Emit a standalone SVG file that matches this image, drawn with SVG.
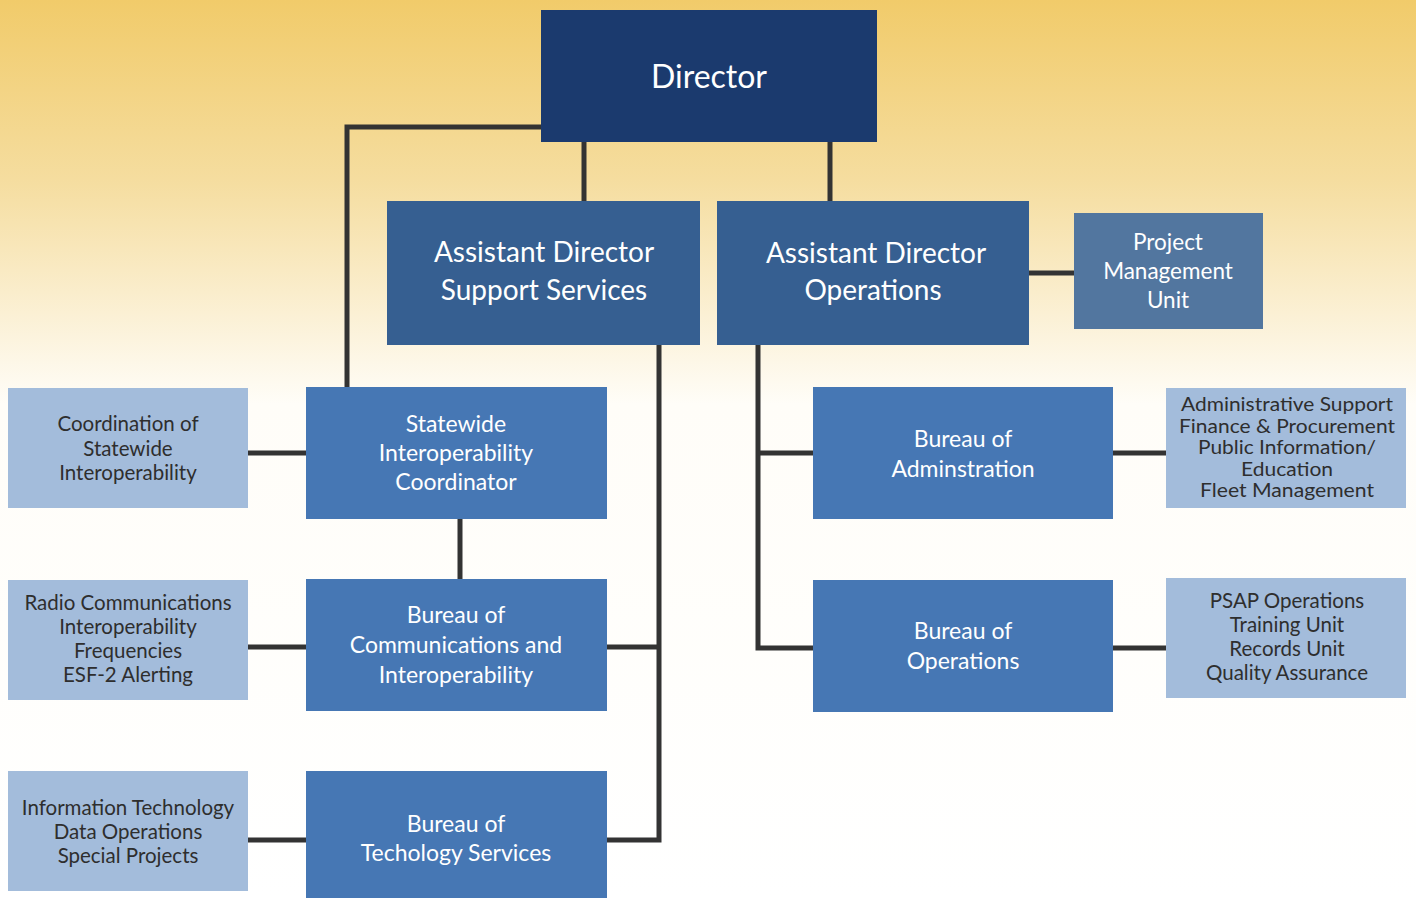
<svg xmlns="http://www.w3.org/2000/svg" width="1416" height="898" viewBox="0 0 1416 898">
  <defs>
    <linearGradient id="bg" x1="0" y1="0" x2="0" y2="898" gradientUnits="userSpaceOnUse">
      <stop offset="0" stop-color="#f1cb6a"/>
      <stop offset="0.2" stop-color="#f5dd9f"/>
      <stop offset="0.45" stop-color="#fffdf8"/>
      <stop offset="1" stop-color="#ffffff"/>
    </linearGradient>
    <style>
      text { font-family: Lato, "Open Sans", "Liberation Sans", sans-serif; text-anchor: middle; }
      .dir { fill: #1b3a6e; }
      .ad { fill: #365f91; }
      .pmu { fill: #52769f; }
      .bur { fill: #4677b4; }
      .lt { fill: #a3bcdb; }
      .w { fill: #ffffff; }
      .d { fill: #2e2e2e; }
      .conn { fill: none; stroke: #333333; stroke-width: 5; stroke-linejoin: miter; stroke-linecap: butt; }
    </style>
  </defs>

  <rect x="0" y="0" width="1416" height="898" fill="url(#bg)"/>

  <!-- connectors -->
  <g id="connectors" class="conn">
    <polyline points="541,127 347,127 347,388"/>
    <line x1="584" y1="142" x2="584" y2="201"/>
    <line x1="830" y1="142" x2="830" y2="201"/>
    <line x1="1029" y1="273" x2="1074" y2="273"/>
    <line x1="248" y1="453" x2="306" y2="453"/>
    <line x1="460" y1="519" x2="460" y2="579"/>
    <line x1="248" y1="647" x2="306" y2="647"/>
    <line x1="248" y1="840" x2="306" y2="840"/>
    <polyline points="659,345 659,840 607,840"/>
    <line x1="607" y1="647" x2="659" y2="647"/>
    <polyline points="758,345 758,648 813,648"/>
    <line x1="758" y1="453" x2="813" y2="453"/>
    <line x1="1113" y1="453" x2="1166" y2="453"/>
    <line x1="1113" y1="648" x2="1166" y2="648"/>
  </g>

  <g id="director">
    <rect class="dir" x="541" y="10" width="336" height="132"/>
    <text class="w" x="709" y="88" font-size="32">Director</text>
  </g>

  <g id="ad-support">
    <rect class="ad" x="387" y="201" width="313" height="144"/>
    <text class="w" x="544" y="262" font-size="28">Assistant Director</text>
    <text class="w" x="544" y="300" font-size="28">Support Services</text>
  </g>

  <g id="ad-operations">
    <rect class="ad" x="717" y="201" width="312" height="144"/>
    <text class="w" x="876" y="263" font-size="28">Assistant Director</text>
    <text class="w" x="873" y="300" font-size="28">Operations</text>
  </g>

  <g id="project-management">
    <rect class="pmu" x="1074" y="213" width="189" height="116"/>
    <text class="w" x="1168" y="250" font-size="22.5">Project</text>
    <text class="w" x="1168" y="279" font-size="22.5">Management</text>
    <text class="w" x="1168" y="308" font-size="22.5">Unit</text>
  </g>

  <g id="swic">
    <rect class="bur" x="306" y="387" width="301" height="132"/>
    <text class="w" x="456" y="432" font-size="23">Statewide</text>
    <text class="w" x="456" y="461" font-size="23">Interoperability</text>
    <text class="w" x="456" y="490" font-size="23">Coordinator</text>
  </g>

  <g id="coordination">
    <rect class="lt" x="8" y="388" width="240" height="120"/>
    <text class="d" x="128" y="431" font-size="20.5">Coordination of</text>
    <text class="d" x="128" y="456" font-size="20.5">Statewide</text>
    <text class="d" x="128" y="480" font-size="20.5">Interoperability</text>
  </g>

  <g id="bureau-communications">
    <rect class="bur" x="306" y="579" width="301" height="132"/>
    <text class="w" x="456" y="623" font-size="23">Bureau of</text>
    <text class="w" x="456" y="653" font-size="23">Communications and</text>
    <text class="w" x="456" y="683" font-size="23">Interoperability</text>
  </g>

  <g id="radio">
    <rect class="lt" x="8" y="580" width="240" height="120"/>
    <text class="d" x="128" y="610" font-size="20.5">Radio Communications</text>
    <text class="d" x="128" y="634" font-size="20.5">Interoperability</text>
    <text class="d" x="128" y="658" font-size="20.5">Frequencies</text>
    <text class="d" x="128" y="682" font-size="20.5">ESF-2 Alerting</text>
  </g>

  <g id="bureau-technology">
    <rect class="bur" x="306" y="771" width="301" height="127"/>
    <text class="w" x="456" y="832" font-size="23">Bureau of</text>
    <text class="w" x="456" y="861" font-size="23">Techology Services</text>
  </g>

  <g id="information-technology">
    <rect class="lt" x="8" y="771" width="240" height="120"/>
    <text class="d" x="128" y="815" font-size="20.5">Information Technology</text>
    <text class="d" x="128" y="839" font-size="20.5">Data Operations</text>
    <text class="d" x="128" y="863" font-size="20.5">Special Projects</text>
  </g>

  <g id="bureau-administration">
    <rect class="bur" x="813" y="387" width="300" height="132"/>
    <text class="w" x="963" y="447" font-size="23">Bureau of</text>
    <text class="w" x="963" y="477" font-size="23">Adminstration</text>
  </g>

  <g id="bureau-operations">
    <rect class="bur" x="813" y="580" width="300" height="132"/>
    <text class="w" x="963" y="639" font-size="23">Bureau of</text>
    <text class="w" x="963" y="669" font-size="23">Operations</text>
  </g>

  <!-- tightly leaded five-line list, stretched to the box width -->
  <g id="administrative-support">
    <rect class="lt" x="1166" y="388" width="240" height="120"/>
    <text class="d" x="1287" y="411" font-size="18.5" textLength="212" lengthAdjust="spacingAndGlyphs">Administrative Support</text>
    <text class="d" x="1287" y="432.5" font-size="18.5" textLength="216" lengthAdjust="spacingAndGlyphs">Finance &amp; Procurement</text>
    <text class="d" x="1287" y="454" font-size="18.5" textLength="178" lengthAdjust="spacingAndGlyphs">Public Information/</text>
    <text class="d" x="1287" y="475.5" font-size="18.5" textLength="92" lengthAdjust="spacingAndGlyphs">Education</text>
    <text class="d" x="1287" y="497" font-size="18.5" textLength="174" lengthAdjust="spacingAndGlyphs">Fleet Management</text>
  </g>

  <g id="psap">
    <rect class="lt" x="1166" y="578" width="240" height="120"/>
    <text class="d" x="1287" y="608" font-size="20.5">PSAP Operations</text>
    <text class="d" x="1287" y="632" font-size="20.5">Training Unit</text>
    <text class="d" x="1287" y="656" font-size="20.5">Records Unit</text>
    <text class="d" x="1287" y="680" font-size="20.5">Quality Assurance</text>
  </g>
</svg>
